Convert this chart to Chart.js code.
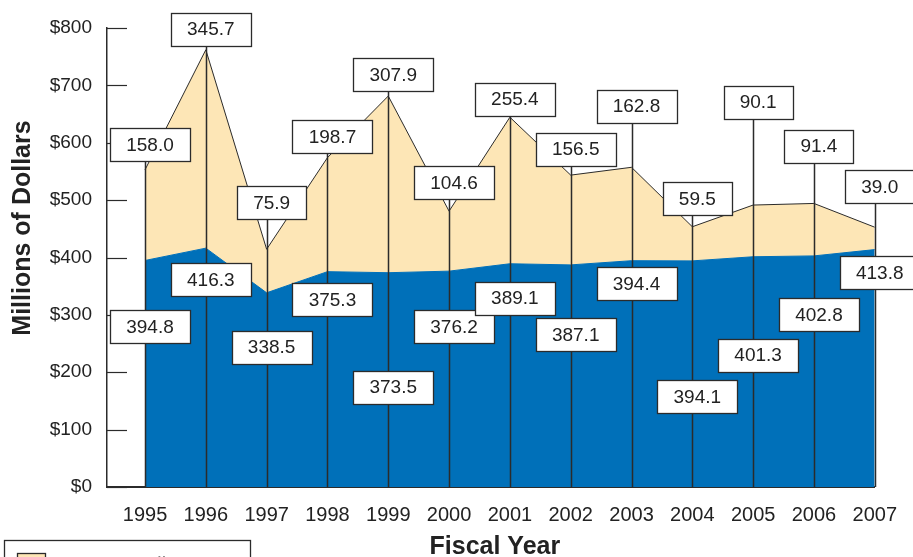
<!DOCTYPE html>
<html lang="en">
<head>
  <meta charset="UTF-8" />
  <title>Funding by Fiscal Year</title>
  <script src="https://cdn.jsdelivr.net/npm/chart.js"></script>
  <style>
    html, body { margin: 0; padding: 0; background: #fff; }
    .wrap { width: 913px; height: 557px; position: relative; }
  </style>
</head>
<body>
  <div class="wrap">
    <canvas id="fundChart"></canvas>
  </div>

  <script>
    // values
    const years = [1995, 1996, 1997, 1998, 1999, 2000, 2001, 2002, 2003, 2004, 2005, 2006, 2007];
    const baseFunding = [394.8, 416.3, 338.5, 375.3, 373.5, 376.2, 389.1, 387.1, 394.4, 394.1, 401.3, 402.8, 413.8];
    const addedFunding = [158.0, 345.7, 75.9, 198.7, 307.9, 104.6, 255.4, 156.5, 162.8, 59.5, 90.1, 91.4, 39.0];
    const yTicks = [0, 100, 200, 300, 400, 500, 600, 700, 800];

    // where the callout boxes sit, in dollar units on the y axis
    const addedLabelAt = [597, 798, 496, 611, 719, 531, 676, 589, 664, 502, 671, 594, 524];
    const baseLabelAt = [279, 361, 244, 326, 174, 279, 329, 266, 354, 157, 230, 300, 374];

    const BLUE = '#0070b9';
    const TAN = '#fde6b6';
    const INK = '#2b2b2b';
    const FONT = '"Liberation Sans", Arial, sans-serif';

    // callout lines, value boxes, axis titles and the legend strip
    const calloutPlugin = {
      id: 'callouts',
      afterDatasetsDraw(chart) {
        const ctx = chart.ctx;
        const xs = chart.scales.x, ys = chart.scales.y;
        const area = chart.chartArea;
        const base = ys.getPixelForValue(0);

        ctx.save();
        // inner tick marks on the y axis
        ctx.strokeStyle = INK;
        ctx.lineWidth = 1.2;
        yTicks.forEach(v => {
          const y = Math.round(ys.getPixelForValue(v)) + 0.5;
          ctx.beginPath();
          ctx.moveTo(area.left, y);
          ctx.lineTo(area.left + 20, y);
          ctx.stroke();
        });

        // leader lines
        ctx.lineWidth = 1.5;
        years.forEach((yr, i) => {
          const x = Math.round(xs.getPixelForValue(yr)) + 0.5;
          ctx.beginPath();
          ctx.moveTo(x, base);
          ctx.lineTo(x, ys.getPixelForValue(addedLabelAt[i]));
          ctx.stroke();
        });

        // boxes
        ctx.font = '19px ' + FONT;
        ctx.textAlign = 'center';
        ctx.textBaseline = 'middle';
        const box = (txt, cx, cy) => {
          const w = Math.round(ctx.measureText(txt).width + 32);
          const h = 33;
          const l = Math.round(cx - w / 2) + 0.5, t = Math.round(cy - h / 2) + 0.5;
          ctx.fillStyle = '#fff';
          ctx.fillRect(l, t, w, h);
          ctx.strokeStyle = INK;
          ctx.lineWidth = 1.3;
          ctx.strokeRect(l, t, w, h);
          ctx.fillStyle = '#222';
          ctx.fillText(txt, cx, cy + 1);
        };
        years.forEach((yr, i) => {
          const cx = xs.getPixelForValue(yr) + 5;
          box(addedFunding[i].toFixed(1), cx, ys.getPixelForValue(addedLabelAt[i]));
          box(baseFunding[i].toFixed(1), cx, ys.getPixelForValue(baseLabelAt[i]));
        });

        // axis titles
        ctx.fillStyle = '#222';
        ctx.font = 'bold 25px ' + FONT;
        ctx.fillText('Fiscal Year', (area.left + area.right) / 2 + 4, 547);
        ctx.save();
        ctx.translate(23, 228);
        ctx.rotate(-Math.PI / 2);
        ctx.fillText('Millions of Dollars', 0, 0);
        ctx.restore();

        // legend (runs off the bottom edge)
        ctx.strokeStyle = INK;
        ctx.lineWidth = 1.3;
        ctx.strokeRect(4.5, 540.5, 246, 30);
        ctx.fillStyle = TAN;
        ctx.fillRect(17.5, 553.5, 28, 14);
        ctx.strokeRect(17.5, 553.5, 28, 14);
        ctx.fillStyle = '#888';
        ctx.font = '20px ' + FONT;
        ctx.textAlign = 'left';
        ctx.textBaseline = 'top';
        ctx.fillText('PRAC Funding', 55, 555);
        ctx.restore();
      }
    };

    new Chart(document.getElementById('fundChart').getContext('2d'), {
      type: 'line',
      data: {
        labels: years,
        datasets: [
          {
            label: 'Base Funding',
            data: years.map((yr, i) => ({ x: yr, y: baseFunding[i] })),
            backgroundColor: BLUE,
            borderColor: BLUE,
            borderWidth: 1,
            fill: 'origin',
            pointRadius: 0,
            tension: 0
          },
          {
            label: 'PRAC Funding',
            data: years.map((yr, i) => ({ x: yr, y: addedFunding[i] })),
            backgroundColor: TAN,
            borderColor: INK,
            borderWidth: 1,
            fill: '-1',
            pointRadius: 0,
            tension: 0
          }
        ]
      },
      options: {
        responsive: true,
        maintainAspectRatio: false,
        animation: false,
        layout: { padding: { left: 0, top: 28, right: 37, bottom: 0 } },
        plugins: {
          legend: { display: false },
          tooltip: { enabled: false }
        },
        scales: {
          x: {
            type: 'linear',
            min: 1994.375,
            max: 2007,
            afterBuildTicks: s => { s.ticks = years.map(v => ({ value: v })); },
            afterFit: s => { s.height = 70; },
            grid: { display: false, drawTicks: false },
            border: { display: true, color: INK, width: 2 },
            ticks: {
              color: '#222',
              font: { family: FONT, size: 20 },
              padding: 16,
              callback: v => String(v)
            }
          },
          y: {
            stacked: true,
            min: 0,
            max: 800,
            afterBuildTicks: s => { s.ticks = yTicks.map(v => ({ value: v })); },
            afterFit: s => { s.width = 107; },
            grid: { display: false, drawTicks: false },
            border: { display: true, color: INK, width: 1.5 },
            ticks: {
              color: '#222',
              font: { family: FONT, size: 19 },
              padding: 15,
              callback: v => '$' + v
            }
          }
        }
      },
      plugins: [calloutPlugin]
    });
  </script>
</body>
</html>
